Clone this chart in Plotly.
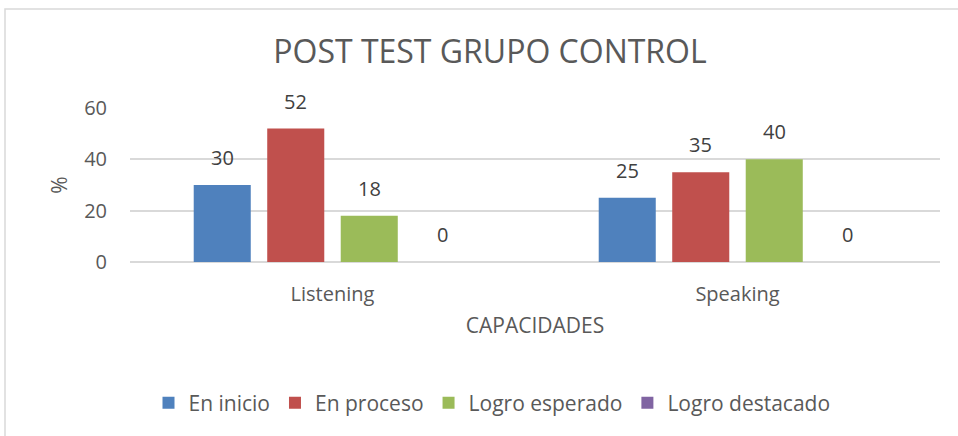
import plotly.graph_objects as go

categories = ["Listening", "Speaking"]
series_names = ["En inicio", "En proceso", "Logro esperado", "Logro destacado"]
en_inicio = [30, 25]
en_proceso = [52, 35]
logro_esperado = [18, 40]
logro_destacado = [0, 0]
series_values = [en_inicio, en_proceso, logro_esperado, logro_destacado]
colors = ["#4F81BD", "#C0504D", "#9BBB59", "#8064A2"]
y_ticks = [0, 20, 40, 60]

FONT = "Open Sans"
W, H = 958, 436
L, T = 130, 108
pw, ph = 810, 154
R = W - L - pw
B = H - T - ph

bargap = 0.274
bargroupgap = 0.224
n = len(series_names)
slot = (1 - bargap) / n

fig = go.Figure()
for j, (name, vals, c) in enumerate(zip(series_names, series_values, colors)):
    fig.add_trace(go.Bar(x=categories, y=vals, name=name, marker=dict(color=c, line=dict(width=0))))
    for i, v in enumerate(vals):
        fig.add_annotation(x=i + (j - (n - 1) / 2) * slot, y=v, xref="x", yref="y",
                           text=str(v), showarrow=False, yanchor="bottom", yshift=12,
                           font=dict(family=FONT, size=20, color="#404040"))

# outer chart border
fig.add_shape(type="rect", xref="paper", yref="paper",
              x0=(5 - L) / pw, x1=(W + 10 - L) / pw,
              y0=-(H + 10 - T - ph) / ph, y1=1 + (T - 9) / ph,
              line=dict(color="#D9D9D9", width=1.5), fillcolor="rgba(0,0,0,0)", layer="below")

fig.update_layout(
    width=W, height=H,
    margin=dict(l=L, r=R, t=T, b=B),
    paper_bgcolor="white", plot_bgcolor="white",
    barmode="group", bargap=bargap, bargroupgap=bargroupgap,
    title=dict(text="POST TEST GRUPO CONTROL", x=490 / W, xanchor="center",
               y=1 - 52 / H, yanchor="middle",
               font=dict(family=FONT, size=32, color="#595959")),
    legend=dict(orientation="h", x=(492 - L) / pw, xanchor="center",
                y=(ph - (403 - T)) / ph, yanchor="middle",
                font=dict(family=FONT, size=21, color="#595959"),
                itemwidth=30, traceorder="normal"),
    showlegend=True,
)
fig.update_xaxes(showline=False, ticks="", ticklabelstandoff=18,
                 tickfont=dict(family=FONT, size=20, color="#595959"),
                 title=dict(text="CAPACIDADES", font=dict(family=FONT, size=21, color="#595959"), standoff=12))
fig.update_yaxes(range=[0, 60], tickvals=y_ticks, showgrid=True, gridcolor="#D9D9D9", gridwidth=1.5,
                 zeroline=True, zerolinecolor="#D9D9D9", zerolinewidth=1.5,
                 ticks="", ticklabelstandoff=22,
                 tickfont=dict(family=FONT, size=20, color="#595959"),
                 title=dict(text="%", font=dict(family=FONT, size=21, color="#595959"), standoff=10))

fig.write_html("out.html", config={"displayModeBar": False},
               post_script="document.body.style.margin='0px';")
